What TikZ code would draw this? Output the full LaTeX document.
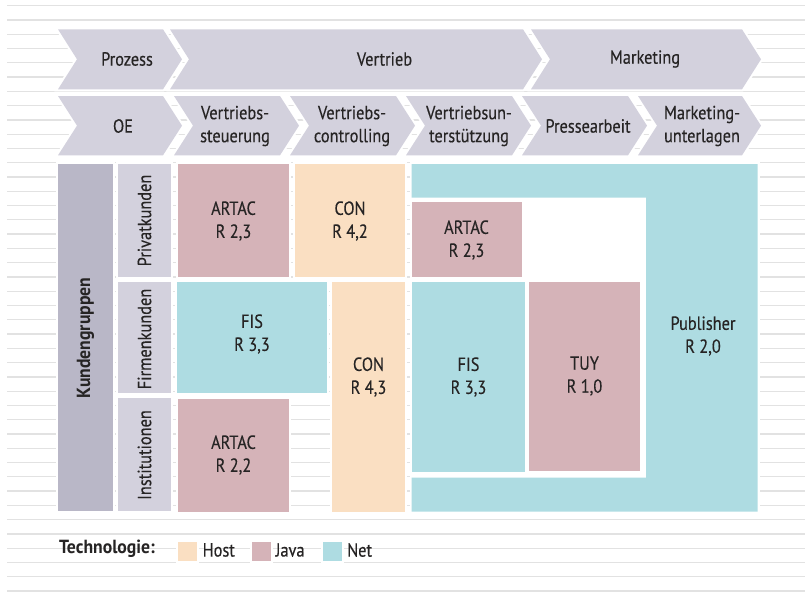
\documentclass[tikz,border=0pt]{standalone}
\usepackage{fontspec}
\setmainfont[UprightFeatures={FakeStretch=0.86,FakeBold=0.3},BoldFeatures={FakeStretch=0.93}]{PT Sans}
\definecolor{chevfill}{HTML}{D3D1DD}
\definecolor{groupfill}{HTML}{B9B7C7}
\definecolor{javafill}{HTML}{D5B3B8}
\definecolor{hostfill}{HTML}{FADFC2}
\definecolor{netfill}{HTML}{AEDCE2}
\definecolor{rulegrey}{HTML}{E2E2E2}
\definecolor{ink}{HTML}{262424}
\tikzset{
  halo/.style={preaction={draw=white,line width=4pt,line join=miter}},
  chev/.style={halo,fill=chevfill},
  groupbox/.style={halo,fill=groupfill},
  javabox/.style={halo,fill=javafill},
  hostbox/.style={halo,fill=hostfill},
  netbox/.style={halo,fill=netfill},
  lbl/.style={text=ink,align=center,inner sep=0pt,font=\fontsize{19}{23}\selectfont},
  rule/.style={draw=rulegrey,line width=1.3pt},
}
% chevron: #1 left x, #2 right x, #3 top y, #4 bottom y
\newcommand{\chevpath}[4]{%
  \path[chev] (#1,#3) -- (#2,#3) -- ({#2+19},{(#3+#4)/2}) -- (#2,#4) -- (#1,#4) -- ({#1+19},{(#3+#4)/2}) -- cycle;}
\begin{document}
\begin{tikzpicture}[x=1pt,y=-1pt]
\useasboundingbox (0,0) rectangle (805,594);
\fill[white] (0,0) rectangle (805,594);
% ruled background
\foreach \k in {0,...,41}
  \draw[rule] (7,{5.7+14.276*\k}) -- (805,{5.7+14.276*\k});

% process row
\chevpath{58}{163}{29.3}{89.3}
\chevpath{170}{523}{29.3}{89.3}
\chevpath{531}{742}{29.3}{89.3}
\node[lbl] (prozess) at (127,59) {Prozess};
\node[lbl] (vertrieb) at (384.5,59) {Vertrieb};
\node[lbl] (marketing) at (645,59) {Marketing};

% organisational units row
\chevpath{58}{163}{96}{155.3}
\chevpath{174}{280}{96}{155.3}
\chevpath{290}{396}{96}{155.3}
\chevpath{406}{512}{96}{155.3}
\chevpath{522}{628}{96}{155.3}
\chevpath{638}{742}{96}{155.3}
\node[lbl] (oe) at (123,126) {OE};
\node[lbl] (vst) at (235,126) {Vertriebs-\\steuerung};
\node[lbl] (vco) at (352,126) {Vertriebs-\\controlling};
\node[lbl] (vun) at (469,126) {Vertriebsun-\\terstützung};
\node[lbl] (pre) at (588,126) {Pressearbeit};
\node[lbl] (mun) at (702,126) {Marketing-\\unterlagen};

% customer groups
\path[groupbox] (58.3,164) rectangle (112.7,510.7);
\node[lbl,rotate=90,font=\fontsize{19}{23}\selectfont\bfseries] (kg) at (85.5,338) {Kundengruppen};
\path[chev] (118,164) rectangle (170.7,276.7);
\path[chev] (118,281.7) rectangle (170.7,393.3);
\path[chev] (118,398.3) rectangle (170.7,510.7);
\node[lbl,rotate=90] (pk) at (144.5,220.5) {Privatkunden};
\node[lbl,rotate=90] (fk) at (144.5,339) {Firmenkunden};
\node[lbl,rotate=90] (inst) at (144.5,455) {Institutionen};

% applications
\path[javabox] (178,164) rectangle (289,277);
\node[lbl] (artac1) at (233.5,221) {ARTAC\\R 2,3};
\path[hostbox] (295,164) rectangle (405,277);
\node[lbl] (con1) at (350,221) {CON\\R 4,2};
\path[netbox] (177,282) rectangle (327,393);
\node[lbl] (fis1) at (252,334) {FIS\\R 3,3};
\path[hostbox] (332,282) rectangle (405,511.7);
\node[lbl] (con2) at (368.5,377) {CON\\R 4,3};
\path[javabox] (178,399) rectangle (289,511.7);
\node[lbl] (artac2) at (233.5,455) {ARTAC\\R 2,2};

% publisher frame with its inner area
\path[netbox] (411.7,164) -- (757.7,164) -- (757.7,511.7) -- (411.7,511.7)
  -- (411.7,477.7) -- (646,477.7) -- (646,197.7) -- (411.7,197.7) -- cycle;
\fill[white] (413.7,199.7) rectangle (644,475.7);
\node[lbl] (pub) at (703,336) {Publisher\\R 2,0};
\path[javabox] (411.5,202) rectangle (522,277);
\node[lbl] (artac3) at (466.5,240) {ARTAC\\R 2,3};
\path[netbox] (412,282) rectangle (525,471.7);
\node[lbl] (fis2) at (468.5,377) {FIS\\R 3,3};
\path[javabox] (529,282) rectangle (640,471);
\node[lbl] (tuy) at (584.5,376) {TUY\\R 1,0};

% legend
\node[lbl,anchor=west,font=\fontsize{19}{23}\selectfont\bfseries] (tech) at (59,549) {Technologie:};
\path[hostbox] (178,542.3) rectangle (197,560.7);
\node[lbl,anchor=west] (host) at (202.5,550) {Host};
\path[javabox] (252,542.3) rectangle (270.7,560.7);
\node[lbl,anchor=west] (java) at (275.5,550) {Java};
\path[netbox] (323,542.3) rectangle (341.7,560.7);
\node[lbl,anchor=west] (net) at (347,550) {Net};
\end{tikzpicture}
\end{document}
